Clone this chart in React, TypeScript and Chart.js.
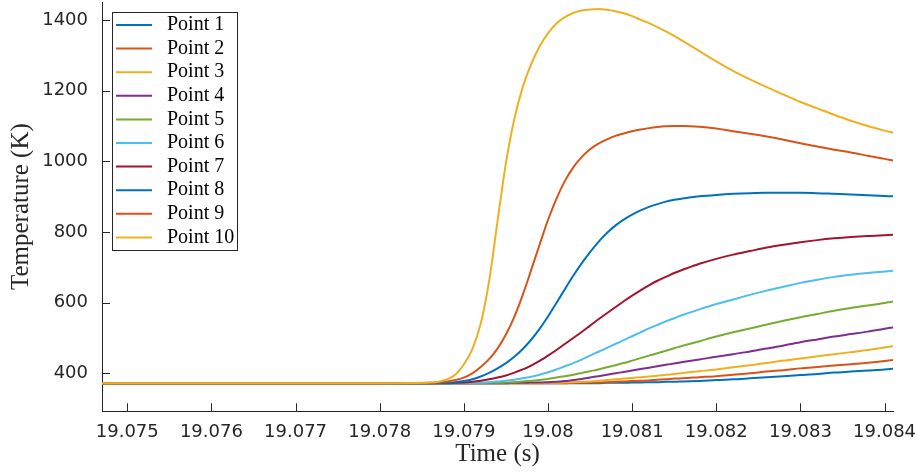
import React, { useEffect, useRef } from "react";
import { Chart, registerables } from "chart.js";

Chart.register(...registerables);

const times = [
  19.0747, 19.078, 19.0786, 19.0788, 19.0789, 19.079, 19.0791, 19.0792, 19.0793, 19.0794,
  19.0795, 19.0796, 19.0797, 19.0798, 19.0799, 19.08, 19.0801, 19.0802, 19.0803, 19.0804,
  19.0805, 19.0806, 19.0807, 19.0808, 19.0809, 19.081, 19.0811, 19.0812, 19.0813, 19.0814,
  19.0815, 19.0816, 19.0818, 19.082, 19.0822, 19.0824, 19.0826, 19.0828, 19.083, 19.0832,
  19.0834, 19.0836, 19.0838, 19.084, 19.0841,
];

const point1 = [
  372, 372, 372, 372, 372, 372, 372, 372, 372, 372,
  372, 372, 372, 372, 372, 372, 372, 372, 372, 372,
  372, 372, 373, 373, 373, 374, 374, 375, 375, 376,
  376, 377, 378, 381, 383, 386, 389, 392, 395, 398,
  402, 405, 408, 411, 413,
];
const point2 = [
  372, 372, 372, 372, 372, 372, 372, 372, 372, 372,
  372, 372, 372, 372, 372, 372, 372, 372, 373, 373,
  374, 374, 375, 376, 377, 378, 379, 380, 382, 383,
  385, 386, 389, 392, 396, 400, 405, 409, 414, 418,
  422, 426, 430, 435, 438,
];
const point3 = [
  372, 372, 372, 372, 372, 372, 372, 372, 372, 372,
  372, 372, 372, 372, 372, 373, 373, 374, 375, 376,
  377, 379, 381, 383, 385, 387, 389, 391, 393, 396,
  398, 401, 406, 411, 417, 423, 429, 436, 442, 448,
  454, 460, 466, 473, 477,
];
const point4 = [
  372, 372, 372, 372, 372, 372, 372, 372, 372, 372,
  372, 373, 373, 374, 374, 375, 376, 378, 381, 384,
  388, 392, 396, 400, 404, 408, 412, 416, 420, 424,
  428, 432, 439, 447, 454, 462, 470, 479, 488, 496,
  504, 511, 518, 526, 530,
];
const point5 = [
  372, 372, 372, 372, 372, 372, 372, 372, 373, 373,
  374, 375, 377, 379, 381, 384, 388, 392, 396, 401,
  406, 411, 417, 423, 429, 436, 443, 450, 457, 464,
  471, 478, 491, 504, 516, 527, 538, 549, 559, 568,
  577, 585, 592, 599, 603,
];
const point6 = [
  372, 372, 372, 372, 372, 372, 373, 374, 375, 377,
  379, 382, 386, 390, 396, 403, 411, 420, 429, 439,
  450, 461, 472, 483, 494, 505, 516, 527, 537, 547,
  556, 565, 581, 596, 609, 622, 634, 645, 656, 665,
  673, 679, 684, 688, 690,
];
const point7 = [
  372, 372, 372, 372, 373, 374, 376, 379, 383, 388,
  394, 402, 411, 422, 435, 450, 466, 483, 500, 517,
  535, 553, 570, 587, 604, 620, 635, 649, 662, 673,
  684, 693, 710, 724, 736, 746, 756, 764, 771, 777,
  782, 786, 789, 791, 792,
];
const point8 = [
  372, 372, 372, 373, 375, 378, 383, 391, 401, 414,
  429, 447, 469, 495, 526, 561, 599, 638, 676, 711,
  743, 772, 797, 818, 835, 849, 861, 871, 879, 886,
  891, 895, 901, 905, 908, 910, 911, 911, 911, 910,
  908, 906, 904, 902, 901,
];
const point9 = [
  372, 372, 373, 377, 381, 388, 400, 418, 440, 470,
  510, 560, 622, 692, 764, 834, 894, 944, 983, 1012,
  1034, 1050, 1062, 1072, 1079, 1085, 1090, 1094, 1097, 1099,
  1100, 1100, 1098, 1093, 1085, 1078, 1070, 1061, 1051, 1042,
  1033, 1025, 1016, 1007, 1002,
];
const point10 = [
  372, 372, 374, 383, 397, 425, 468, 540, 660, 830,
  995, 1120, 1210, 1275, 1325, 1362, 1390, 1408, 1420, 1427,
  1430, 1431, 1429, 1425, 1419, 1411, 1401, 1391, 1380, 1368,
  1355, 1341, 1312, 1283, 1256, 1232, 1210, 1189, 1168, 1150,
  1132, 1115, 1100, 1087, 1081,
];

const seriesLabels = [
  "Point 1", "Point 2", "Point 3", "Point 4", "Point 5",
  "Point 6", "Point 7", "Point 8", "Point 9", "Point 10",
];
const seriesColors = [
  "#0072BD", "#D95319", "#EDB120", "#7E2F8E", "#77AC30",
  "#4DBEEE", "#A2142F", "#0072BD", "#D95319", "#EDB120",
];

const xTickValues = [19.075, 19.076, 19.077, 19.078, 19.079, 19.08, 19.081, 19.082, 19.083, 19.084];
const xTickLabels = ["19.075", "19.076", "19.077", "19.078", "19.079", "19.08", "19.081", "19.082", "19.083", "19.084"];
const yTickValues = [400, 600, 800, 1000, 1200, 1400];
const yTickLabels = ["400", "600", "800", "1000", "1200", "1400"];

const xTitle = "Time (s)";
const yTitle = "Temperature (K)";

const AXIS = "#262626";

const inwardTicks = {
  id: "inwardTicks",
  afterDatasetsDraw(chart: any) {
    const { ctx, chartArea, scales } = chart;
    ctx.save();
    ctx.strokeStyle = AXIS;
    ctx.lineWidth = 1;
    scales.y.ticks.forEach((t: any) => {
      const y = Math.round(scales.y.getPixelForValue(t.value)) + 0.5;
      ctx.beginPath();
      ctx.moveTo(chartArea.left, y);
      ctx.lineTo(chartArea.left + 8, y);
      ctx.stroke();
    });
    scales.x.ticks.forEach((t: any) => {
      const x = Math.round(scales.x.getPixelForValue(t.value)) + 0.5;
      ctx.beginPath();
      ctx.moveTo(x, chartArea.bottom);
      ctx.lineTo(x, chartArea.bottom - 8);
      ctx.stroke();
    });
    ctx.restore();
  },
};

const boxLegend = {
  id: "boxLegend",
  afterDraw(chart: any) {
    const { ctx, chartArea } = chart;
    const x0 = Math.round(chartArea.left + 10) + 0.5;
    const y0 = Math.round(chartArea.top + 10) + 0.5;
    const w = 125;
    const h = 238;
    ctx.save();
    ctx.fillStyle = "#ffffff";
    ctx.fillRect(x0, y0, w, h);
    ctx.strokeStyle = AXIS;
    ctx.lineWidth = 1;
    ctx.strokeRect(x0, y0, w, h);
    ctx.font = '20px "Liberation Serif"';
    ctx.textBaseline = "middle";
    ctx.textAlign = "left";
    chart.data.datasets.forEach((ds: any, i: number) => {
      const cy = y0 + 12.5 + i * 23.6;
      ctx.strokeStyle = ds.borderColor;
      ctx.lineWidth = 2;
      ctx.beginPath();
      ctx.moveTo(x0 + 3.5, cy);
      ctx.lineTo(x0 + 39.5, cy);
      ctx.stroke();
      ctx.fillStyle = "#000000";
      ctx.fillText(ds.label, x0 + 54.5, cy);
    });
    ctx.restore();
  },
};

export default function App() {
  const ref = useRef<HTMLCanvasElement>(null);

  useEffect(() => {
    if (!ref.current) return;
    const seriesValues = [point1, point2, point3, point4, point5, point6, point7, point8, point9, point10];
    const datasets = seriesValues.map((vals, i) => ({
      label: seriesLabels[i],
      data: vals.map((v, j) => ({ x: times[j], y: v })),
      borderColor: seriesColors[i],
      backgroundColor: seriesColors[i],
      borderWidth: 2,
      pointRadius: 0,
      fill: false,
      cubicInterpolationMode: "monotone" as const,
      order: seriesValues.length - 1 - i,
    }));

    const chart = new Chart(ref.current, {
      type: "line",
      data: { datasets },
      plugins: [inwardTicks, boxLegend],
      options: {
        animation: false,
        responsive: false,
        maintainAspectRatio: false,
        layout: { padding: { top: 2, right: 22, bottom: 0, left: 0 } },
        plugins: {
          legend: { display: false },
          tooltip: { enabled: false },
        },
        scales: {
          x: {
            type: "linear",
            min: 19.0747,
            max: 19.0841,
            afterBuildTicks: (s: any) => {
              s.ticks = xTickValues.map((v) => ({ value: v }));
            },
            afterFit: (s: any) => {
              s.height = 62.7;
              s.paddingLeft = 0;
              s.paddingRight = 0;
            },
            ticks: {
              callback: (_v: any, i: number) => xTickLabels[i],
              font: { family: "DejaVu Sans", size: 18 },
              color: AXIS,
              padding: 10,
              maxRotation: 0,
              autoSkip: false,
            },
            grid: { display: false, drawTicks: false },
            border: { display: true, color: AXIS, width: 1 },
            title: {
              display: true,
              text: xTitle,
              color: AXIS,
              font: { family: "Liberation Serif", size: 25 },
              padding: { top: 0, bottom: 5 },
            },
          },
          y: {
            type: "linear",
            min: 292.5,
            max: 1451,
            afterBuildTicks: (s: any) => {
              s.ticks = yTickValues.map((v) => ({ value: v }));
            },
            afterFit: (s: any) => {
              s.width = 102;
              s.paddingTop = 0;
              s.paddingBottom = 0;
            },
            ticks: {
              callback: (_v: any, i: number) => yTickLabels[i],
              font: { family: "DejaVu Sans", size: 18 },
              color: AXIS,
              padding: 14,
              autoSkip: false,
            },
            grid: { display: false, drawTicks: false },
            border: { display: true, color: AXIS, width: 1 },
            title: {
              display: true,
              text: yTitle,
              color: AXIS,
              font: { family: "Liberation Serif", size: 25 },
              padding: { top: 6, bottom: 0 },
            },
          },
        },
      },
    });
    return () => chart.destroy();
  }, []);

  return (
    <div style={{ position: "fixed", left: 0, top: 0, width: 915, height: 474, background: "#fff" }}>
      <canvas ref={ref} width={915} height={474} style={{ display: "block" }} />
    </div>
  );
}
